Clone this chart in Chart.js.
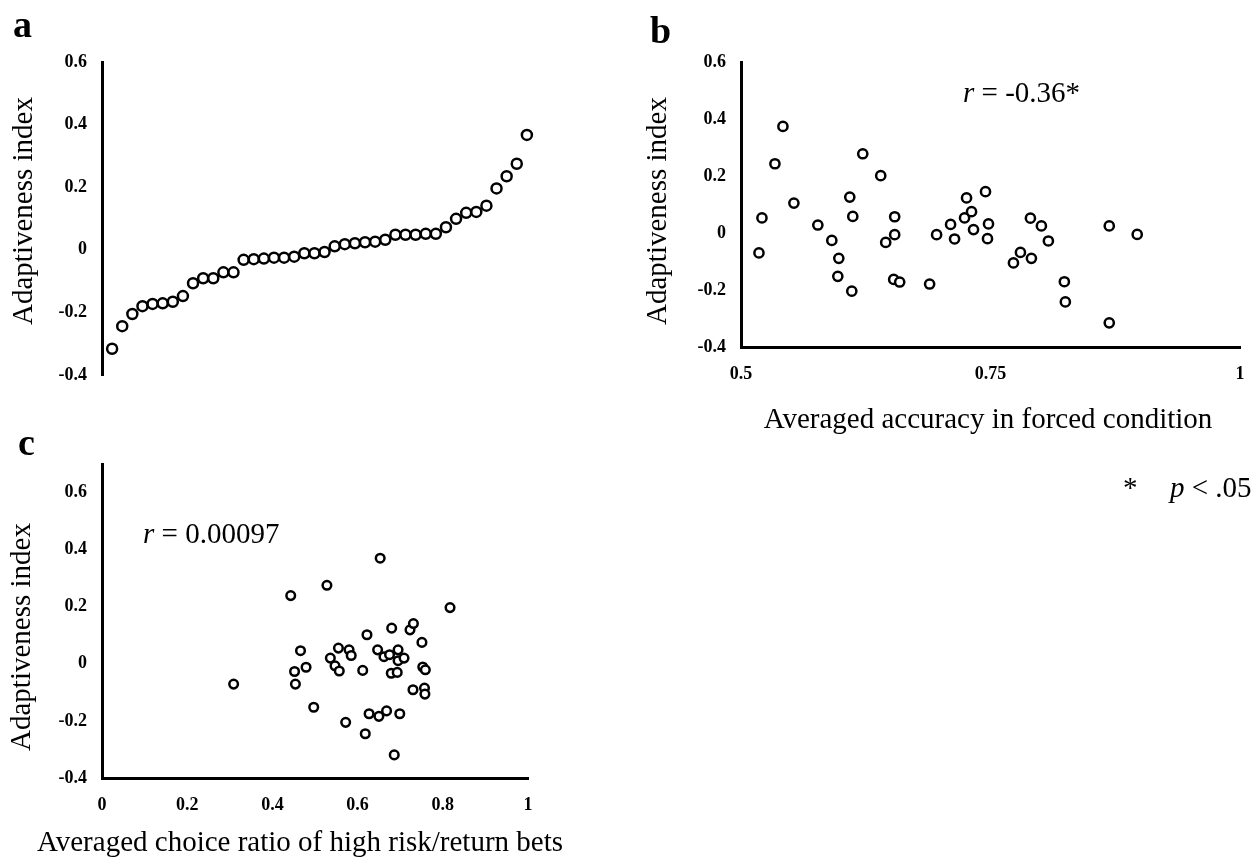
<!DOCTYPE html>
<html>
<head>
<meta charset="utf-8">
<script src="https://cdn.jsdelivr.net/npm/chart.js"></script>
<style>
  html, body { margin: 0; padding: 0; background: #fff; }
  #wrap { position: relative; width: 1257px; height: 862px; }
  #wrap canvas { position: absolute; left: 0; top: 0; }
</style>
</head>
<body>
<div id="wrap">
  <canvas id="chartA" width="1257" height="862"></canvas>
  <canvas id="chartB" width="1257" height="862"></canvas>
  <canvas id="chartC" width="1257" height="862"></canvas>
</div>
<script>
  // panel a: participants sorted by adaptiveness index
  var rankNo = [1, 2, 3, 4, 5, 6, 7, 8, 9, 10, 11, 12, 13, 14, 15, 16, 17, 18, 19, 20, 21,
                22, 23, 24, 25, 26, 27, 28, 29, 30, 31, 32, 33, 34, 35, 36, 37, 38, 39, 40, 41, 42];
  var sortedIndex = [-0.316, -0.244, -0.205, -0.180, -0.173, -0.171, -0.166, -0.148, -0.107, -0.091, -0.091,
                     -0.072, -0.072, -0.032, -0.030, -0.028, -0.025, -0.025, -0.022, -0.011, -0.011,
                     -0.007, 0.011, 0.018, 0.021, 0.024, 0.026, 0.032, 0.048, 0.048, 0.048,
                     0.051, 0.051, 0.072, 0.099, 0.118, 0.121, 0.141, 0.196, 0.235, 0.275, 0.367];

  // panel b: accuracy in forced condition vs index
  var forcedAcc = [0.518, 0.521, 0.534, 0.542, 0.553, 0.577, 0.591, 0.598, 0.597, 0.611, 0.609,
                   0.612, 0.622, 0.640, 0.645, 0.654, 0.654, 0.653, 0.659, 0.689, 0.696,
                   0.710, 0.714, 0.724, 0.726, 0.731, 0.733, 0.745, 0.748, 0.747, 0.773,
                   0.780, 0.791, 0.790, 0.801, 0.808, 0.824, 0.825, 0.869, 0.869, 0.897];
  var indexB = [-0.070, 0.053, 0.243, 0.374, 0.105, 0.028, -0.026, -0.089, -0.152, -0.204, 0.126,
                0.058, 0.278, 0.201, -0.033, 0.057, -0.006, -0.163, -0.172, -0.179, -0.006,
                0.030, -0.021, 0.053, 0.123, 0.075, 0.012, 0.145, 0.032, -0.020, -0.105,
                -0.068, -0.089, 0.052, 0.025, -0.028, -0.171, -0.242, 0.025, -0.315, -0.005];

  // panel c: choice ratio of high risk/return bets vs index
  var riskRatio = [0.309, 0.443, 0.452, 0.454, 0.466, 0.479, 0.497, 0.528, 0.536, 0.547, 0.555,
                   0.557, 0.572, 0.580, 0.585, 0.612, 0.622, 0.618, 0.627, 0.647, 0.653,
                   0.650, 0.662, 0.668, 0.675, 0.680, 0.679, 0.693, 0.695, 0.695, 0.709,
                   0.699, 0.686, 0.723, 0.731, 0.730, 0.751, 0.753, 0.759, 0.757, 0.758, 0.817];
  var indexC = [-0.071, 0.239, -0.027, -0.071, 0.046, -0.012, -0.152, 0.275, 0.020, -0.007, 0.055,
                -0.025, -0.205, 0.049, 0.029, -0.023, 0.102, -0.245, -0.175, 0.049, 0.370,
                -0.184, 0.025, -0.165, 0.032, 0.125, -0.033, -0.030, 0.049, 0.011, 0.020,
                -0.175, -0.319, 0.119, 0.141, -0.091, 0.075, -0.011, -0.021, -0.085, -0.106, 0.197];

  var yTicks = [-0.4, -0.2, 0, 0.2, 0.4, 0.6];
  var bXTicks = [0.5, 0.75, 1];
  var cXTicks = [0, 0.2, 0.4, 0.6, 0.8, 1];

  var serif = "'Liberation Serif', 'Times New Roman', serif";
  var tickFont = { family: serif, size: 18, weight: 'bold' };

  function pairs(xs, ys) {
    var out = [];
    for (var i = 0; i < xs.length; i++) out.push({ x: xs[i], y: ys[i] });
    return out;
  }

  // text pieces (italic r / p etc) drawn on top of the chart
  var annotate = {
    id: 'annotate',
    afterDraw: function(chart, args, opts) {
      var ctx = chart.ctx;
      (opts.items || []).forEach(function(it) {
        ctx.save();
        ctx.translate(it.x, it.y);
        if (it.rotate) ctx.rotate(it.rotate);
        ctx.fillStyle = '#000';
        ctx.textBaseline = it.baseline || 'alphabetic';
        ctx.textAlign = 'left';
        var total = 0;
        it.parts.forEach(function(p) { ctx.font = p[1]; total += ctx.measureText(p[0]).width; });
        var px = it.align === 'center' ? -total / 2 : 0;
        it.parts.forEach(function(p) {
          ctx.font = p[1];
          ctx.fillText(p[0], px, 0);
          px += ctx.measureText(p[0]).width;
        });
        ctx.restore();
      });
    }
  };

  function yAxis(min, max) {
    return {
      type: 'linear', min: min, max: max,
      afterBuildTicks: function(s) { s.ticks = yTicks.map(function(v) { return { value: v }; }); },
      afterFit: function(s) { s.width = 60; },
      grid: { display: false },
      border: { display: true, color: '#000', width: 3 },
      ticks: { color: '#000', font: tickFont, padding: 7, callback: function(v) { return String(v); } }
    };
  }

  function xAxis(min, max, list) {
    return {
      type: 'linear', min: min, max: max,
      afterBuildTicks: function(s) { s.ticks = list.map(function(v) { return { value: v }; }); },
      afterFit: function(s) { s.height = 45; },
      grid: { display: false },
      border: { display: true, color: '#000', width: 3 },
      ticks: { color: '#000', font: tickFont, padding: 9, maxRotation: 0, callback: function(v) { return String(v); } }
    };
  }

  function dataset(pts, r) {
    return {
      data: pts,
      pointStyle: 'circle',
      pointRadius: r,
      pointBorderWidth: 2.5,
      pointBorderColor: '#000',
      pointBackgroundColor: '#fff',
      showLine: false
    };
  }

  var T = '29px ' + serif;
  var TI = 'italic 29px ' + serif;
  var L = 'bold 38px ' + serif;

  function baseOptions(padding, scales, items) {
    return {
      responsive: false,
      animation: false,
      layout: { padding: padding },
      scales: scales,
      plugins: { legend: { display: false }, tooltip: { enabled: false }, annotate: { items: items } }
    };
  }

  new Chart(document.getElementById('chartA').getContext('2d'), {
    type: 'scatter',
    data: { datasets: [dataset(pairs(rankNo, sortedIndex), 5)] },
    options: baseOptions({ left: 42, top: 62, right: 720, bottom: 487 }, {
      x: { type: 'linear', display: false, min: 0, max: 43 },
      y: yAxis(-0.4, 0.6)
    }, [
      { parts: [['a', L]], x: 13, y: 37 },
      { parts: [['Adaptiveness index', T]], x: 24, y: 211, rotate: -Math.PI / 2, align: 'center', baseline: 'middle' }
    ]),
    plugins: [annotate]
  });

  new Chart(document.getElementById('chartB').getContext('2d'), {
    type: 'scatter',
    data: { datasets: [dataset(pairs(forcedAcc, indexB), 4.6)] },
    options: baseOptions({ left: 681, top: 62, right: 17, bottom: 470 }, {
      x: xAxis(0.5, 1, bXTicks),
      y: yAxis(-0.4, 0.6)
    }, [
      { parts: [['b', L]], x: 650, y: 43 },
      { parts: [['Adaptiveness index', T]], x: 658, y: 211, rotate: -Math.PI / 2, align: 'center', baseline: 'middle' },
      { parts: [['r', TI], [' = -0.36*', T]], x: 963, y: 102 },
      { parts: [['Averaged accuracy in forced condition', T]], x: 988, y: 428, align: 'center' },
      { parts: [['*', T]], x: 1123, y: 497 },
      { parts: [['p', TI], [' < .05', T]], x: 1170, y: 497 }
    ]),
    plugins: [annotate]
  });

  new Chart(document.getElementById('chartC').getContext('2d'), {
    type: 'scatter',
    data: { datasets: [dataset(pairs(riskRatio, indexC), 4.3)] },
    options: baseOptions({ left: 42, top: 464, right: 729, bottom: 39 }, {
      x: xAxis(0, 1, cXTicks),
      y: yAxis(-0.4, 0.7)
    }, [
      { parts: [['c', L]], x: 18, y: 455 },
      { parts: [['Adaptiveness index', T]], x: 22, y: 637, rotate: -Math.PI / 2, align: 'center', baseline: 'middle' },
      { parts: [['r', TI], [' = 0.00097', T]], x: 143, y: 543 },
      { parts: [['Averaged choice ratio of high risk/return bets', T]], x: 300, y: 851, align: 'center' }
    ]),
    plugins: [annotate]
  });
</script>
</body>
</html>
